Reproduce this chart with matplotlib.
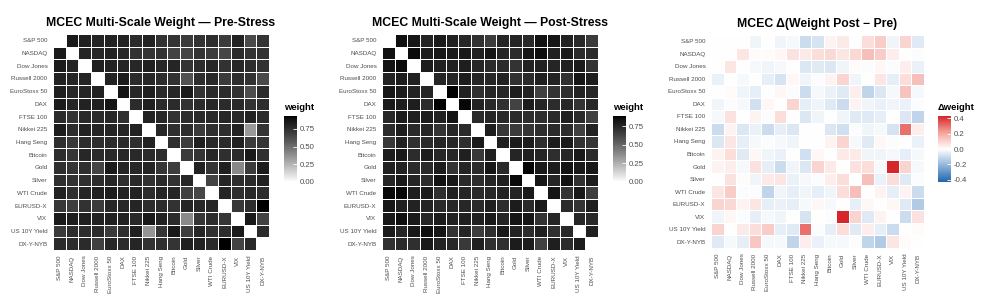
import numpy as np
import matplotlib
matplotlib.use("Agg")
import matplotlib.pyplot as plt
from matplotlib.colors import ListedColormap, LinearSegmentedColormap

plt.rcParams['font.family'] = ['Liberation Sans', 'DejaVu Sans']

assets = ["S&P 500", "NASDAQ", "Dow Jones", "Russell 2000", "EuroStoxx 50", "DAX",
          "FTSE 100", "Nikkei 225", "Hang Seng", "Bitcoin", "Gold", "Silver",
          "WTI Crude", "EURUSD-X", "VIX", "US 10Y Yield", "DX-Y-NYB"]

# pre-stress weights (rows / cols in asset order)
pre = np.array([
    [0, .846, .814, .794, .804, .804, .765, .804, .737, .727, .701, .737, .756, .701, .804, .638, .727],
    [.840, 0, .794, .784, .804, .784, .737, .727, .737, .667, .667, .727, .701, .653, .765, .727, .737],
    [.832, .794, 0, .814, .804, .794, .784, .814, .784, .794, .727, .756, .784, .737, .784, .756, .737],
    [.804, .794, .794, 0, .804, .832, .765, .784, .756, .737, .605, .756, .776, .701, .756, .737, .638],
    [.814, .784, .794, .804, 0, .865, .784, .814, .765, .784, .846, .727, .765, .765, .737, .622, .765],
    [.832, .794, .804, .814, .865, 0, .765, .814, .765, .765, .737, .765, .784, .765, .776, .737, .756],
    [.765, .727, .776, .765, .784, .747, 0, .804, .784, .737, .756, .776, .776, .784, .776, .804, .765],
    [.827, .756, .804, .794, .794, .794, .804, 0, .784, .747, .756, .701, .747, .747, .804, .344, .727],
    [.747, .710, .756, .747, .765, .765, .747, .804, 0, .747, .692, .814, .776, .765, .814, .701, .727],
    [.756, .719, .784, .765, .776, .784, .776, .765, .756, 0, .701, .727, .784, .747, .765, .850, .747],
    [.747, .727, .747, .660, .840, .794, .784, .794, .719, .684, 0, .804, .727, .814, .400, .701, .832],
    [.747, .737, .747, .756, .784, .747, .776, .737, .765, .737, .784, 0, .667, .794, .756, .765, .804],
    [.804, .747, .794, .814, .827, .804, .804, .756, .794, .794, .676, .653, 0, .794, .747, .776, .756],
    [.710, .684, .737, .701, .784, .784, .794, .756, .756, .737, .794, .784, .784, 0, .710, .756, .930],
    [.840, .827, .814, .804, .814, .804, .776, .850, .804, .765, .395, .719, .756, .719, 0, .850, .667],
    [.701, .756, .756, .765, .701, .747, .814, .357, .719, .850, .684, .784, .737, .756, .840, 0, .765],
    [.765, .756, .765, .676, .784, .765, .794, .737, .747, .727, .814, .804, .765, .930, .667, .776, 0],
])

# change in weight, post minus pre
delta = np.array([
    [0, 0, 0, -.03, 0, -.03, -.02, -.10, -.08, .03, .05, 0, .08, .12, -.03, .10, -.06],
    [0, 0, .06, .01, .01, .02, .07, .05, .08, .09, .06, .09, .15, .12, .04, 0, -.01],
    [0, .06, 0, -.02, -.03, -.02, 0, -.07, -.06, -.07, -.03, .01, -.01, .02, -.01, .04, -.04],
    [-.04, 0, -.02, 0, -.05, -.08, .02, -.03, -.01, .03, .10, -.03, 0, .06, -.05, .08, .15],
    [0, .01, -.03, -.05, 0, .02, -.01, -.10, -.02, -.04, -.06, .04, -.12, -.07, -.02, .14, -.02],
    [-.03, -.01, -.02, -.09, .02, 0, .10, -.05, -.03, -.06, -.10, .03, -.03, -.04, -.03, -.04, -.01],
    [-.02, .07, 0, .03, -.01, .08, 0, -.07, -.03, 0, -.03, -.06, -.06, -.05, 0, -.07, -.12],
    [-.10, .03, -.07, -.04, -.10, -.05, -.07, 0, 0, -.07, -.09, -.01, -.03, -.02, -.08, .30, .04],
    [-.07, .06, -.05, -.02, -.01, -.02, -.03, 0, 0, .03, .10, -.02, -.06, .02, -.01, 0, -.04],
    [.03, .08, -.06, .02, -.03, -.04, 0, -.09, .02, 0, .05, .05, -.03, -.03, -.02, -.05, -.02],
    [.03, .04, -.02, .07, -.05, -.10, -.03, -.07, .10, .05, 0, .07, .08, -.02, .43, .10, -.02],
    [0, .07, .01, -.03, .05, .06, -.04, -.02, -.01, .04, .08, 0, .15, -.04, .08, -.06, -.01],
    [.06, .12, -.01, -.01, -.12, -.03, -.05, -.03, -.05, -.03, .08, .15, 0, .03, -.05, .03, -.10],
    [.10, .09, .03, .06, -.05, -.04, -.05, -.02, .02, -.02, 0, -.05, .02, 0, .02, -.06, -.15],
    [-.03, .02, -.01, -.05, -.02, -.03, 0, -.08, 0, -.01, .43, .10, -.06, .03, 0, -.10, .07],
    [.10, 0, .05, .08, .12, -.05, -.06, .30, -.01, -.05, .08, -.06, .04, -.05, -.10, 0, .01],
    [-.06, -.02, -.05, .13, -.02, -.02, -.12, .04, -.04, -.02, -.02, -.01, -.12, -.15, .06, .01, 0],
])

post = pre + delta


def lab_grey_cmap():
    # white -> black, linear in L* like ggplot's gradient
    t = np.linspace(0, 1, 256)
    L = 100 * (1 - t)
    Y = np.where(L > 8, ((L + 16) / 116) ** 3, L / 903.3)
    g = np.where(Y > 0.0031308, 1.055 * Y ** (1 / 2.4) - 0.055, 12.92 * Y)
    g = np.clip(g, 0, 1)
    return ListedColormap(np.stack([g, g, g, np.ones_like(g)], axis=1))


grey = lab_grey_cmap()
divcm = LinearSegmentedColormap.from_list(
    "div", ["#2166AC", "#8FB4DA", "#FFFFFF", "#F3A39B", "#D7262B"])

W, H = 985, 307
fig = plt.figure(figsize=(W / 100, H / 100), dpi=100)
tick_col = "#4D4D4D"


def px(x0, y0, w, h):
    return [x0 / W, 1 - (y0 + h) / H, w / W, h / H]


def heat(x0, y0, size, data, cmap, vmin, vmax, title, cbx, ctitle, cticks, cfmt):
    ax = fig.add_axes(px(x0, y0, size, size))
    n = len(assets)
    m = ax.pcolormesh(np.arange(n + 1), np.arange(n + 1), data, cmap=cmap,
                      vmin=vmin, vmax=vmax, edgecolors="white", linewidth=0.6)
    ax.set_xlim(0, n)
    ax.set_ylim(n, 0)
    ax.set_xticks(np.arange(n) + 0.5)
    ax.set_yticks(np.arange(n) + 0.5)
    ax.set_xticklabels(assets, rotation=90, fontsize=4.5, color=tick_col)
    ax.set_yticklabels(assets, fontsize=4.5, color=tick_col)
    ax.tick_params(length=0, pad=4)
    for s in ax.spines.values():
        s.set_visible(False)
    ax.set_title(title, fontsize=8.8, fontweight="bold", pad=6)

    cax = fig.add_axes(px(cbx, 116, 13, 66))
    cb = fig.colorbar(m, cax=cax, ticks=cticks)
    cb.outline.set_visible(False)
    cax.tick_params(length=3, width=0.6, color="white", direction="in",
                    labelsize=5.6, labelcolor=tick_col, pad=2)
    cax.set_yticklabels([cfmt % v for v in cticks])
    fig.text(cbx / W, 1 - 108 / H, ctitle, fontsize=6.8, fontweight="bold",
             ha="left", va="center")
    return ax


wmax1 = pre.max()
wmax2 = post.max()
dmax = np.abs(delta).max()

heat(53, 34, 216, pre, grey, 0, wmax1, "MCEC Multi-Scale Weight \u2014 Pre-Stress",
     284, "weight", [0, 0.25, 0.5, 0.75], "%.2f")
heat(382, 34, 216, post, grey, 0, wmax2, "MCEC Multi-Scale Weight \u2014 Post-Stress",
     613, "weight", [0, 0.25, 0.5, 0.75], "%.2f")
heat(711, 35, 213, delta, divcm, -dmax, dmax, "MCEC \u0394(Weight Post \u2212 Pre)",
     938, "\u0394weight", [-0.4, -0.2, 0.0, 0.2, 0.4], "%.1f")

fig.savefig("out.png", dpi=100, facecolor="white")
